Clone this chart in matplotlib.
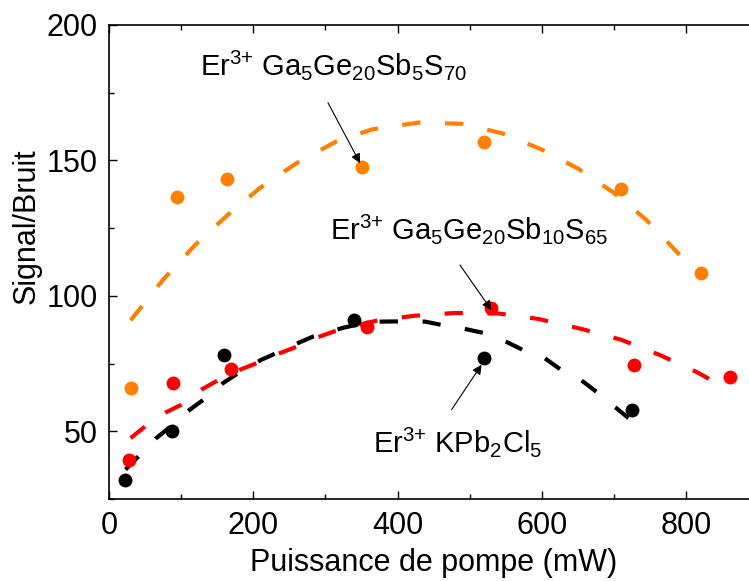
import matplotlib
matplotlib.use('Agg')
import matplotlib.pyplot as plt
from matplotlib import font_manager
from matplotlib.ticker import MultipleLocator

plt.rcParams['font.family'] = ['Liberation Sans', 'DejaVu Sans']

# the annotations use a narrower face than the axes
note_font = 'Liberation Sans'
try:
    font_manager.findfont('Liberation Sans Narrow', fallback_to_default=False)
    note_font = 'Liberation Sans Narrow'
except ValueError:
    pass

plt.rcParams['mathtext.fontset'] = 'custom'
plt.rcParams['mathtext.rm'] = note_font
plt.rcParams['mathtext.it'] = note_font
plt.rcParams['mathtext.default'] = 'regular'

# measured points (puissance de pompe in mW, signal/bruit)
ga_sb5_x = [30, 94, 163, 350, 520, 710, 820]
ga_sb5_y = [66, 136.6, 143.1, 147.7, 156.9, 139.3, 108.5]

ga_sb10_x = [28, 89, 169, 357, 529, 728, 860]
ga_sb10_y = [39.3, 67.8, 73, 88.5, 95.4, 74.6, 70]

kpb_x = [22, 88, 160, 340, 520, 725]
kpb_y = [32, 50, 78.3, 91, 77, 57.7]

# fitted curves
fit_sb5_x = [30, 75, 120, 165, 210, 260, 315, 365, 430, 490, 545, 600, 650, 700, 745, 795]
fit_sb5_y = [91, 106, 119, 130, 140, 149, 157, 161.5, 164, 163.5, 160, 154, 147, 138, 128, 114]

fit_sb10_x = [30, 50, 78, 100, 128, 152, 181, 205, 237, 255, 292, 311, 357, 375, 425, 480, 540, 595, 655, 710, 765, 816, 858]
fit_sb10_y = [47.5, 51.8, 56.9, 59.8, 65.4, 69, 72.7, 75.2, 78.9, 80.7, 85, 86.8, 90, 91.1, 92.7, 93.7, 93.5, 91.5, 87.8, 83.8, 78, 71.7, 65.4]

fit_kpb_x = [23, 38, 66, 80, 112, 131, 158, 179, 211, 232, 262, 283, 324, 343, 375, 405, 438, 461, 497, 521, 551, 574, 604, 627, 655, 676, 703, 720]
fit_kpb_y = [35.9, 40, 47.6, 50.6, 58, 61.7, 67.8, 71.5, 76.4, 78.9, 82.6, 85, 88.2, 89.3, 90.5, 90.6, 90.5, 89.3, 87.6, 86.2, 83, 80, 77, 72.6, 68.8, 64.5, 58.6, 54.9]

orange = '#ff8000'
red = '#ff0000'
black = '#000000'

fig = plt.figure(figsize=(7.49, 5.81), dpi=100)
ax = fig.add_axes([0.1455, 0.141, 0.8545, 0.816])

dash = (0, (4.4, 5.9))
lw = 3.0
ax.plot(fit_sb5_x, fit_sb5_y, color=orange, lw=lw, linestyle=dash)
ax.plot(fit_sb10_x, fit_sb10_y, color=red, lw=lw, linestyle=dash)
ax.plot(fit_kpb_x, fit_kpb_y, color=black, lw=lw, linestyle=dash)

ms = 10
ax.plot(ga_sb5_x, ga_sb5_y, 'o', color=orange, ms=ms, mec='none')
ax.plot(ga_sb10_x, ga_sb10_y, 'o', color=red, ms=ms, mec='none')
ax.plot(kpb_x, kpb_y, 'o', color=black, ms=ms, mec='none')

fs_note = 24 if note_font == 'Liberation Sans Narrow' else 21
ax.text(126, 181.4, r'Er$^{3{+}}$ Ga$_5$Ge$_{20}$Sb$_5$S$_{70}$', fontsize=fs_note,
        va='baseline', family=note_font)
ax.text(306, 120.9, r'Er$^{3{+}}$ Ga$_5$Ge$_{20}$Sb$_{10}$S$_{65}$', fontsize=fs_note,
        va='baseline', family=note_font)
ax.text(366, 42.2, r'Er$^{3{+}}$ KPb$_2$Cl$_5$', fontsize=fs_note,
        va='baseline', family=note_font)

arrow = dict(arrowstyle='-|>', color='k', lw=0.8, mutation_scale=14, shrinkA=0, shrinkB=0)
ax.annotate('', xy=(348, 149), xytext=(303.5, 171.3), arrowprops=arrow)
ax.annotate('', xy=(530, 94.8), xytext=(486.4, 111.4), arrowprops=arrow)
ax.annotate('', xy=(516.4, 74.6), xytext=(474.8, 58), arrowprops=arrow)

ax.set_xlim(0, 887)
ax.set_ylim(25, 200)
ax.xaxis.set_major_locator(MultipleLocator(200))
ax.xaxis.set_minor_locator(MultipleLocator(100))
ax.yaxis.set_major_locator(MultipleLocator(50))
ax.yaxis.set_minor_locator(MultipleLocator(25))
ax.tick_params(which='both', direction='in', top=True, right=False, width=1.0, labelsize=22)
ax.tick_params(axis='x', pad=8.5)
ax.tick_params(axis='y', pad=8)
ax.tick_params(which='major', length=6)
ax.tick_params(which='minor', length=3.5)
ax.spines['right'].set_visible(False)
for s in ['left', 'top', 'bottom']:
    ax.spines[s].set_linewidth(1.2)

ax.set_xlabel('Puissance de pompe (mW)', fontsize=22, labelpad=5)
ax.xaxis.label.set_x(0.508)
ax.set_ylabel('Signal/Bruit', fontsize=22)
ax.yaxis.set_label_coords(-0.106, 0.576)

fig.savefig('out.png', dpi=100)
